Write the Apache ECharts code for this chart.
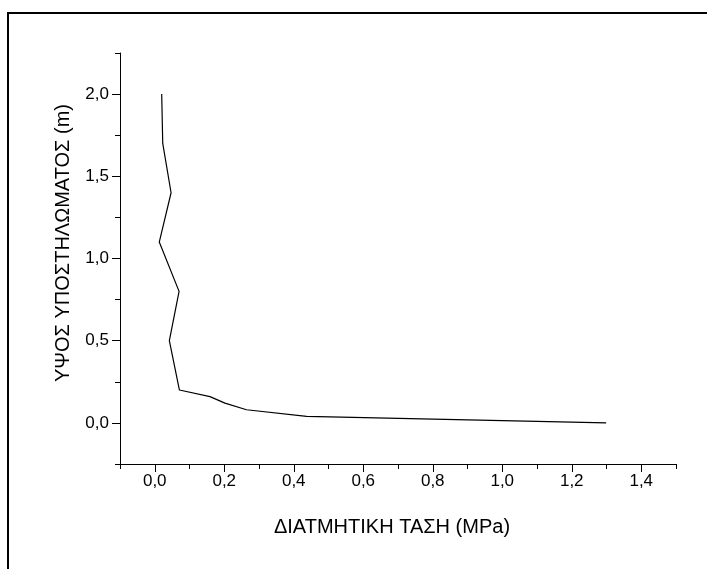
<!DOCTYPE html>
<html>
<head>
<meta charset="utf-8">
<script src="https://cdn.jsdelivr.net/npm/echarts@6/dist/echarts.min.js"></script>
<style>
  html, body { margin: 0; padding: 0; background: #fff; }
  #chart { width: 707px; height: 569px; }
</style>
</head>
<body>
<div id="chart"></div>
<script>
// Shear stress (MPa) along the column height (m)
const stress = [0.02, 0.023, 0.047, 0.013, 0.07, 0.042, 0.071, 0.159, 0.202, 0.264, 0.437, 1.299];
const height = [2.0, 1.7, 1.4, 1.1, 0.8, 0.5, 0.2, 0.16, 0.12, 0.08, 0.04, 0.0];

const xMajorTicks = [0, 0.2, 0.4, 0.6, 0.8, 1.0, 1.2, 1.4];
const yMajorTicks = [0, 0.5, 1.0, 1.5, 2.0];

const xTitle = 'ΔΙΑΤΜΗΤΙΚΗ ΤΑΣΗ (MPa)';
const yTitle = 'ΥΨΟΣ ΥΠΟΣΤΗΛΩΜΑΤΟΣ (m)';

const FONT = '"Liberation Sans", Arial, sans-serif';
const comma = v => v.toFixed(1).replace('.', ',');

const points = stress.map((x, i) => [x, height[i]]);

const chart = echarts.init(document.getElementById('chart'), null, { renderer: 'canvas' });

chart.setOption({
  backgroundColor: '#ffffff',
  animation: false,
  grid: { left: 120, right: 31, top: 53, bottom: 105 },
  graphic: [{
    type: 'rect',
    shape: { x: 8, y: 13, width: 740, height: 620 },
    style: { fill: 'none', stroke: '#000', lineWidth: 2 },
    silent: true
  }, {
    type: 'text',
    x: 392, y: 527,
    style: {
      text: xTitle, fill: '#000', font: '20px ' + FONT,
      align: 'center', verticalAlign: 'middle'
    },
    silent: true
  }, {
    type: 'text',
    x: 63, y: 243,
    rotation: Math.PI / 2,
    style: {
      text: yTitle, fill: '#000', font: '20px ' + FONT,
      align: 'center', verticalAlign: 'middle'
    },
    silent: true
  }],
  xAxis: [{
    type: 'value',
    min: -0.1, max: 1.5, interval: 0.1,
    splitLine: { show: false },
    axisLine: { show: true, onZero: false, lineStyle: { color: '#000', width: 1 } },
    axisTick: { show: true, length: 5, lineStyle: { color: '#000' } },
    axisLabel: {
      customValues: xMajorTicks,
      formatter: comma,
      color: '#000', fontFamily: FONT, fontSize: 17, margin: 9
    }
  }, {
    type: 'value',
    position: 'bottom',
    min: -0.1, max: 1.5,
    splitLine: { show: false },
    axisLine: { show: false, onZero: false },
    axisTick: { show: true, customValues: xMajorTicks, length: 8, lineStyle: { color: '#000' } },
    axisLabel: { show: false }
  }],
  yAxis: [{
    type: 'value',
    min: -0.25, max: 2.25, interval: 0.25,
    splitLine: { show: false },
    axisLine: { show: true, onZero: false, lineStyle: { color: '#000', width: 1 } },
    axisTick: { show: true, length: 5, lineStyle: { color: '#000' } },
    axisLabel: {
      customValues: yMajorTicks,
      formatter: comma,
      color: '#000', fontFamily: FONT, fontSize: 17, margin: 11
    }
  }, {
    type: 'value',
    position: 'left',
    min: -0.25, max: 2.25,
    splitLine: { show: false },
    axisLine: { show: false, onZero: false },
    axisTick: { show: true, customValues: yMajorTicks, length: 8, lineStyle: { color: '#000' } },
    axisLabel: { show: false }
  }],
  series: [{
    type: 'line',
    data: points,
    xAxisIndex: 0,
    yAxisIndex: 0,
    showSymbol: false,
    symbol: 'none',
    lineStyle: { color: '#000', width: 1.2 }
  }]
});
</script>
</body>
</html>
